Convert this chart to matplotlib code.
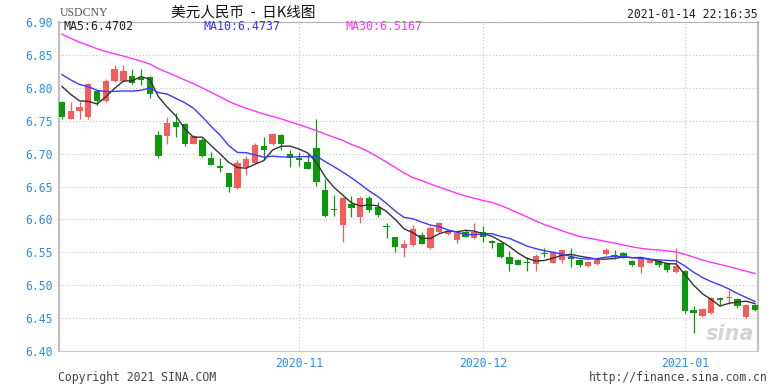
import pandas as pd
import matplotlib.pyplot as plt

# Datos: USDCNY diario (16-09-2020 a 14-01-2021)
feriados = ["2020-10-01", "2020-10-02", "2020-10-05", "2020-10-06",
            "2020-10-07", "2020-10-08", "2021-01-01"]
fechas = pd.bdate_range("2020-09-16", "2021-01-14")
fechas = fechas[~fechas.isin(pd.to_datetime(feriados))]

apertura = [6.778, 6.753, 6.764, 6.756, 6.795, 6.780, 6.810, 6.810, 6.818, 6.815,
            6.816, 6.729, 6.727, 6.748, 6.745, 6.715, 6.721, 6.694, 6.681, 6.670,
            6.647, 6.679, 6.685, 6.711, 6.714, 6.729, 6.700,
            6.694, 6.687, 6.708, 6.645, 6.616, 6.592, 6.623, 6.603, 6.632, 6.619,
            6.590, 6.573, 6.556, 6.561, 6.577, 6.556, 6.581, 6.578, 6.568, 6.581,
            6.572,
            6.581, 6.567, 6.564, 6.543, 6.538, 6.536, 6.532, 6.549, 6.534, 6.538,
            6.543, 6.538, 6.529, 6.532, 6.547, 6.546, 6.549, 6.537, 6.528, 6.534,
            6.537, 6.534, 6.520,
            6.521, 6.462, 6.453, 6.458, 6.481, 6.480, 6.479, 6.452, 6.470]
maximo = [6.780, 6.779, 6.780, 6.808, 6.797, 6.814, 6.835, 6.834, 6.829, 6.829,
          6.818, 6.735, 6.755, 6.762, 6.746, 6.728, 6.724, 6.702, 6.693, 6.671,
          6.690, 6.697, 6.716, 6.725, 6.732, 6.730, 6.705,
          6.703, 6.700, 6.752, 6.662, 6.637, 6.634, 6.635, 6.635, 6.636, 6.627,
          6.595, 6.574, 6.568, 6.591, 6.581, 6.590, 6.596, 6.585, 6.581, 6.584,
          6.594,
          6.590, 6.568, 6.566, 6.552, 6.540, 6.543, 6.547, 6.556, 6.552, 6.554,
          6.557, 6.540, 6.537, 6.541, 6.556, 6.553, 6.551, 6.539, 6.542, 6.540,
          6.540, 6.535, 6.556,
          6.523, 6.468, 6.465, 6.482, 6.482, 6.492, 6.481, 6.471, 6.471]
minimo = [6.753, 6.752, 6.753, 6.753, 6.774, 6.779, 6.809, 6.809, 6.806, 6.804,
          6.785, 6.694, 6.714, 6.725, 6.712, 6.714, 6.695, 6.682, 6.672, 6.642,
          6.646, 6.668, 6.684, 6.690, 6.713, 6.706, 6.679,
          6.681, 6.676, 6.651, 6.603, 6.605, 6.566, 6.603, 6.594, 6.612, 6.604,
          6.572, 6.551, 6.543, 6.560, 6.562, 6.555, 6.580, 6.576, 6.564, 6.573,
          6.570,
          6.565, 6.556, 6.542, 6.522, 6.530, 6.521, 6.521, 6.543, 6.533, 6.533,
          6.527, 6.528, 6.528, 6.531, 6.546, 6.540, 6.541, 6.529, 6.519, 6.533,
          6.528, 6.520, 6.518,
          6.458, 6.428, 6.452, 6.456, 6.470, 6.471, 6.466, 6.450, 6.461]
cierre = [6.755, 6.765, 6.771, 6.806, 6.780, 6.810, 6.829, 6.826, 6.808, 6.812,
          6.790, 6.696, 6.747, 6.740, 6.715, 6.726, 6.697, 6.683, 6.678, 6.650,
          6.686, 6.692, 6.713, 6.706, 6.730, 6.715, 6.693,
          6.691, 6.677, 6.657, 6.605, 6.614, 6.632, 6.618, 6.633, 6.614, 6.606,
          6.588, 6.558, 6.562, 6.585, 6.563, 6.587, 6.594, 6.583, 6.579, 6.574,
          6.581,
          6.574, 6.564, 6.543, 6.532, 6.531, 6.534, 6.544, 6.547, 6.550, 6.553,
          6.540, 6.531, 6.535, 6.539, 6.553, 6.545, 6.542, 6.530, 6.541, 6.539,
          6.530, 6.523, 6.529,
          6.461, 6.458, 6.464, 6.480, 6.478, 6.482, 6.468, 6.470, 6.462]

# Cierres previos (antes del 16-09) solo para calentar las medias móviles
cierre_previo = [6.955, 6.950, 6.945, 6.940, 6.935, 6.930, 6.930, 6.925, 6.925, 6.920,
                 6.915, 6.910, 6.905, 6.900, 6.895, 6.890, 6.885, 6.875, 6.865, 6.850,
                 6.845, 6.840, 6.840, 6.835, 6.830, 6.825, 6.820, 6.810, 6.800]

texto_ma = {"MA5": "6.4702", "MA10": "6.4737", "MA30": "6.5167"}
meses_marcados = ["2020-11", "2020-12", "2021-01"]
marca_tiempo = "2021-01-14 22:16:35"

df = pd.DataFrame({"fecha": fechas, "open": apertura, "high": maximo,
                   "low": minimo, "close": cierre})
todo = pd.Series(cierre_previo + cierre)
n = len(df)
for p in (5, 10, 30):
    df[f"ma{p}"] = todo.rolling(p).mean().iloc[-n:].values

# Colores
ROJO = "#f75c5c"
VERDE = "#0a9a0a"
AZUL_TXT = "#2b8fe6"
mono = "DejaVu Sans Mono"

fig = plt.figure(figsize=(7.72, 3.88), dpi=100)
ax = fig.add_axes([59 / 772, 1 - 351 / 388, (758 - 59) / 772, (351 - 22) / 388])

x = range(n)
for i, r in df.iterrows():
    col = ROJO if r["close"] >= r["open"] else VERDE
    ax.vlines(i, r["low"], r["high"], color=col, lw=0.9, zorder=3)
    alto = max(abs(r["close"] - r["open"]), 0.0009)
    ax.bar(i, alto, bottom=min(r["open"], r["close"]), width=0.72,
           color=col, lw=0, zorder=4)

ax.plot(x, df["ma5"], color="#333333", lw=1.0, zorder=5)
ax.plot(x, df["ma10"], color="#3a3aff", lw=1.0, zorder=5)
ax.plot(x, df["ma30"], color="#ff33ff", lw=1.0, zorder=5)

# Ejes
ax.set_xlim(-0.34, n - 1 + 0.34)
ax.set_ylim(6.40, 6.90)
yt = [6.40 + 0.05 * k for k in range(11)]
ax.set_yticks(yt)
ax.set_yticklabels([f"{v:.2f}" for v in yt])
mes = df["fecha"].dt.strftime("%Y-%m")
inicio_mes = [mes[mes == m].index[0] for m in meses_marcados]
ax.set_xticks(inicio_mes)
ax.set_xticklabels(meses_marcados)
ax.tick_params(length=0, labelsize=8.3, labelcolor=AZUL_TXT, pad=4.5)
for lab in ax.get_xticklabels() + ax.get_yticklabels():
    lab.set_family(mono)
ax.grid(True, color="#c4c4c4", lw=0.8, linestyle=(0, (1, 2)))
ax.set_axisbelow(True)
for s in ("left", "right"):
    ax.spines[s].set_color("#c0c0c0")
    ax.spines[s].set_linewidth(1.6)
ax.spines["top"].set_color("#b0b0b0")
ax.spines["top"].set_linewidth(0.8)
ax.spines["bottom"].set_color("#c8c8c8")
ax.spines["bottom"].set_linewidth(0.8)

# Leyenda de medias
fig.text(64 / 772, 1 - 26.5 / 388, f"MA5:{texto_ma['MA5']}", fontsize=8.4,
         family=mono, color="#222222", va="center")
fig.text(204 / 772, 1 - 26.5 / 388, f"MA10:{texto_ma['MA10']}", fontsize=8.4,
         family=mono, color="#3333ff", va="center")
fig.text(345 / 772, 1 - 26.5 / 388, f"MA30:{texto_ma['MA30']}", fontsize=8.4,
         family=mono, color="#ff33ff", va="center")

# Encabezado
fig.text(60 / 772, 1 - 13 / 388, "USDCNY", fontsize=8.5, family="Liberation Serif",
         color="#555555", va="center")
fig.text(243 / 772, 1 - 12.5 / 388, "美元人民币  -  日K线图", fontsize=10.5,
         family=["Noto Sans CJK SC", "DejaVu Sans"], color="#111111",
         ha="center", va="center")
fig.text(758 / 772, 1 - 14 / 388, marca_tiempo, fontsize=8.3, family=mono,
         color="#222222", ha="right", va="center")

# Pie
fig.text(58 / 772, 1 - 378 / 388, "Copyright 2021 SINA.COM", fontsize=8.3,
         family=mono, color="#444444", va="center")
fig.text(768 / 772, 1 - 378 / 388, "http://finance.sina.com.cn", fontsize=8.3,
         family=mono, color="#444444", ha="right", va="center")

# Marca de agua
ax.text(0.995, 0.02, "sina", transform=ax.transAxes, fontsize=15, style="italic",
        weight="bold", color="#d4d4d4", ha="right", va="bottom", zorder=1)

fig.savefig("out.png", dpi=100)
